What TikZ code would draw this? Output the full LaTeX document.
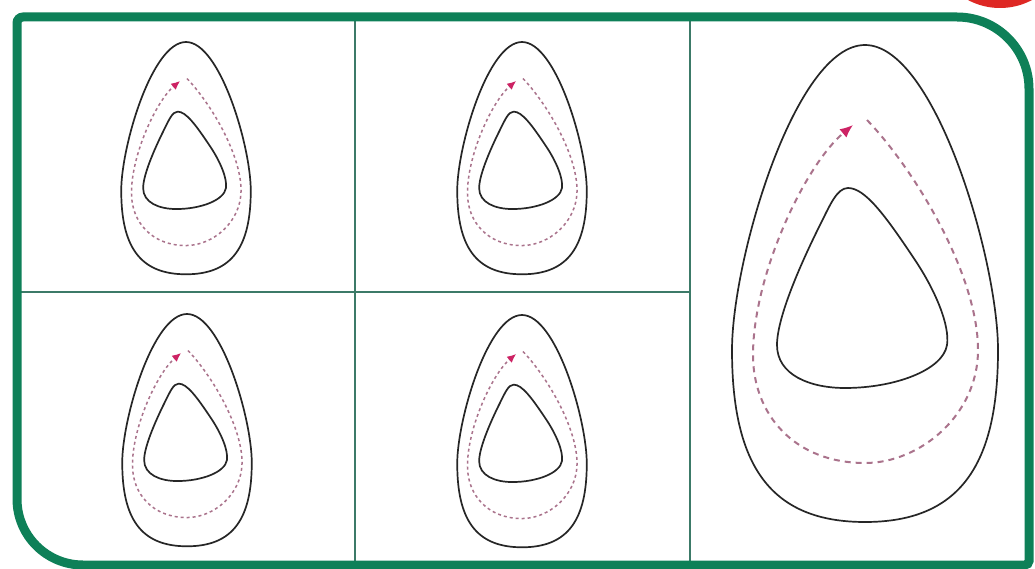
\documentclass[tikz,border=0pt]{standalone}
\usetikzlibrary{arrows.meta}
\definecolor{framegreen}{RGB}{14,128,88}
\definecolor{gridteal}{RGB}{60,122,104}
\definecolor{flowc}{RGB}{170,115,140}
\definecolor{arrowc}{RGB}{205,35,100}
\definecolor{badgered}{RGB}{222,40,36}
\tikzset{
  eggline/.style={draw=black!85, line width=1.7pt},
  flowbig/.style={draw=flowc, line width=2pt, dash pattern=on 6pt off 5pt,
     -{Latex[length=13pt,width=11pt,color=arrowc]}},
  flowsmall/.style={draw=flowc, line width=1.5pt, dash pattern=on 3pt off 3pt,
     -{Latex[length=9pt,width=8pt,color=arrowc]}},
  framestyle/.style={draw=framegreen, line width=9pt},
  gridstyle/.style={draw=gridteal, line width=1.5pt},
  pics/egg/.style={code={
    % outer egg
    \draw[eggline] (0,0) .. controls (70,0) and (133,215) .. (133,305)
      .. controls (133,420) and (95,477) .. (0,477)
      .. controls (-95,477) and (-133,420) .. (-133,305)
      .. controls (-133,215) and (-70,0) .. (0,0) -- cycle;
    % inner rounded triangle
    \draw[eggline] (-17,143) .. controls (0,143) and (20,170) .. (50,215)
      .. controls (70,245) and (85,280) .. (82,300)
      .. controls (78,325) and (30,343) .. (-20,343)
      .. controls (-55,343) and (-88,330) .. (-88,300)
      .. controls (-88,270) and (-60,210) .. (-45,180)
      .. controls (-35,160) and (-28,143) .. (-17,143) -- cycle;
    % flow
    \draw[#1] (2,75) .. controls (50,125) and (113,230) .. (113,305)
      .. controls (113,370) and (55,418) .. (0,418)
      .. controls (-70,418) and (-112,370) .. (-112,310)
      .. controls (-112,230) and (-60,120) .. (-12,80);
  }}
}
\begin{document}
\begin{tikzpicture}[x=1pt,y=-1pt]
\clip (0,0) rectangle (1035,569);
\fill[white] (0,0) rectangle (1035,569);
\fill[badgered] (1000,-60) circle (68);
% grid
\draw[gridstyle] (355,17) -- (355,565);
\draw[gridstyle] (690,17) -- (690,565);
\draw[gridstyle] (17,292) -- (690,292);
% frame
\draw[framestyle] (23,17) -- (957,17) .. controls (996.8,17) and (1029,49.2) .. (1029,89)
  -- (1029,561) .. controls (1029,563.2) and (1026.8,565) .. (1025,565)
  -- (83,565) .. controls (46.5,565) and (17,535.5) .. (17,499)
  -- (17,23) .. controls (17,19.7) and (19.7,17) .. (23,17) -- cycle;
% eggs
\pic[scale=0.487] at (186,42) {egg=flowsmall};
\pic[scale=0.487] at (522,42) {egg=flowsmall};
\pic[scale=0.487] at (187,314) {egg=flowsmall};
\pic[scale=0.487] at (522,315) {egg=flowsmall};
\pic at (865,45) {egg=flowbig};
\end{tikzpicture}
\end{document}
